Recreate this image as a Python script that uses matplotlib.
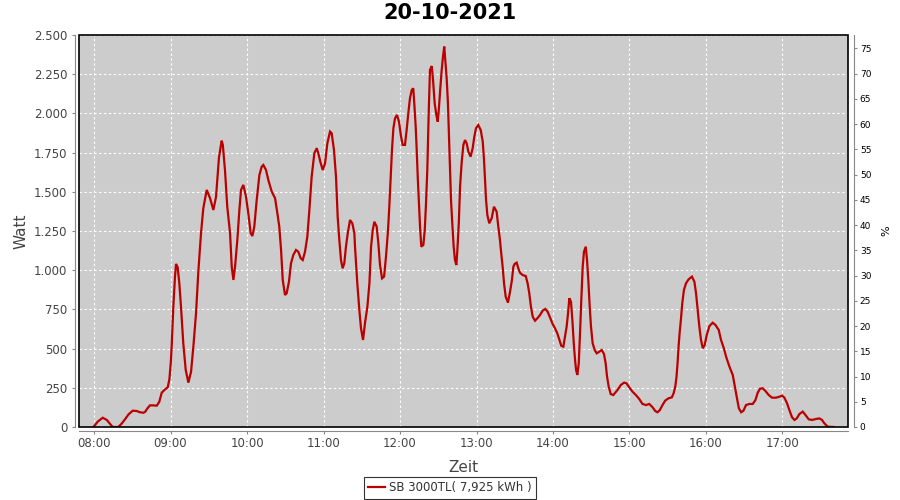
import matplotlib
matplotlib.use("Agg")
import matplotlib.pyplot as plt
from matplotlib.patches import Rectangle
from matplotlib.ticker import FixedLocator, FuncFormatter

# ---- data (minutes after 08:00, Watt) ----
minutes = [-0.5, 3, 6.8, 10, 13, 14.6, 19, 21.5, 24.3, 27, 30.3, 33.5, 36, 38.7, 40, 42, 43.9, 46.5, 49.2,
           51.2, 53.1, 55.7, 57.8, 59.1, 60.2, 61, 62.2, 63.5, 64.3, 65.6, 66.9, 68.2, 70, 71.9, 74, 76.1,
           77.9, 80, 81.8, 83.9, 85.7, 88.4, 91, 93.6, 95.7, 96.7, 98, 100.1, 101, 102.7, 104.5, 106.7, 108,
           109.3, 110.6, 112.4, 114, 115.3, 117.1, 119.2, 121, 122.9, 124.2, 125.7, 127.6, 129.7, 131.5,
           132.8, 134.9, 136.7, 139.4, 142, 143.8, 145.3, 146.7, 148, 149.8, 151.1, 152.9, 154.5, 156.3,
           158.4, 160.2, 162.1, 163.7, 165.5, 167.3, 168.9, 170.7, 172.8, 174.7, 175.9, 177.8, 179.4, 181.2,
           183, 185.1, 186.4, 188.2, 189.8, 191.1, 192.4, 193.7, 195, 196.3, 197.6, 199, 200.8, 202.6, 204.2,
           204.7, 206.5, 208.1, 209.4, 211, 212.5, 214.4, 216, 217.3, 218.6, 219.9, 221.7, 223, 224.3, 225.9,
           227.5, 229, 230.6, 231.6, 232.7, 233.7, 234.8, 236.1, 237.6, 239.2, 240.8, 242.1, 243.9, 245.2,
           246.5, 247.8, 249.2, 250.4, 251.2, 252.3, 253.1, 253.9, 254.9, 255.7, 256.7, 258.3, 259.4, 260.4,
           261.4, 262.5, 263.5, 264.9, 265.9, 267.2, 268.5, 269.6, 270.6, 271.6, 272.7, 273.7, 274.7, 275.5,
           276.6, 277.6, 278.4, 279.2, 280, 281, 282.1, 283.1, 284.2, 285, 286.1, 287.1, 288.4, 289.7, 291,
           292.3, 293.6, 295.4, 297, 298.3, 299.6, 301.4, 303.3, 304.9, 305.9, 306.7, 307.5, 308.5, 310,
           311.9, 313.7, 315.8, 317.1, 318.4, 319.4, 320.5, 321.6, 322.9, 324.7, 326.3, 327.8, 328.9, 329.9,
           331.5, 332.8, 334.1, 336.2, 338.6, 340.1, 341.4, 342.7, 344.1, 345.9, 347.7, 349.8, 351.9, 354,
           355.8, 357.6, 359.5, 361.6, 363.4, 365, 366.5, 368.1, 369.4, 370.7, 371.8, 372.8, 374.1, 375.2,
           376.3, 377.3, 378.1, 379.1, 380.2, 381.2, 382.2, 383.3, 384.3, 385.7, 386.7, 387.7, 388.8, 389.8,
           391.1, 392.7, 394.3, 396.3, 398.2, 400, 401.3, 402.4, 403.7, 405.3, 407.3, 410.6, 413.2, 415.8,
           417.6, 419.8, 422.4, 425, 427.6, 430.2, 432.9, 435.5, 438.1, 440.2, 442, 443.8, 445.9, 448, 450.6,
           453.2, 454.6, 455.9, 456.9, 457.7, 458.5, 459.3, 460.3, 461.4, 462.7, 464.3, 466.4, 469, 470.9,
           472.2, 473.5, 474.8, 476.1, 477.5, 479, 480.6, 482.7, 485.3, 487.4, 490, 491.8, 494, 495.8, 498.4,
           501, 502.4, 504.1, 505.8, 507.6, 509.4, 511.4, 514.1, 516.7, 518.8, 520.6, 522.4, 524.5, 526.6,
           529.2, 531.8, 534.9, 537.6, 539.7, 541.5, 543.6, 545.4, 547.5, 549.4, 551.2, 553.3, 555.9, 558,
           560.6, 563.2, 566.3, 568.9, 571, 572.9, 575.5, 580]
watt = [0, 35, 59, 45, 15, 0, 0, 20, 49, 80, 104, 102, 94, 91, 96, 120, 138, 138, 136,
        161, 219, 240, 253, 304, 410, 534, 767, 959, 1040, 1018, 916, 767, 534, 364, 283, 353,
        512, 725, 991, 1235, 1395, 1512, 1459, 1384, 1469, 1575, 1720, 1826, 1800, 1639, 1405, 1235, 1022,
        938, 1022, 1193, 1384, 1512, 1544, 1469, 1363, 1235, 1218, 1278, 1448, 1607, 1660,
        1671, 1639, 1575, 1501, 1459, 1363, 1278, 1129, 938, 842, 853, 927, 1044, 1097,
        1129, 1118, 1076, 1065, 1118, 1214, 1384, 1596, 1746, 1778, 1746, 1682, 1639, 1682,
        1809, 1884, 1873, 1767, 1596, 1341, 1193, 1065, 1012, 1044, 1150, 1235, 1320, 1299, 1235,
        1150, 916, 746, 629, 555, 661, 767, 916, 1150, 1256, 1309, 1278, 1172, 1033, 948,
        959, 1086, 1256, 1405, 1596, 1767, 1905, 1969, 1990, 1947, 1852, 1799, 1799, 1894,
        2001, 2096, 2149, 2160, 2064, 1915, 1767, 1596, 1427, 1278, 1150, 1161, 1256, 1427,
        1639, 2001, 2277, 2302, 2213, 2064, 1990, 1947, 2043, 2160, 2277, 2362, 2426, 2341,
        2224, 2064, 1852, 1639, 1448, 1299, 1150, 1065, 1033, 1129, 1299, 1533, 1692, 1799, 1830,
        1809, 1756, 1724, 1778, 1852, 1905, 1926, 1894, 1820, 1703, 1575, 1448, 1352, 1299,
        1331, 1405, 1373, 1278, 1193, 1108, 1022, 916, 831, 793, 863, 938, 1022, 1040,
        1048, 1012, 984, 969, 963, 916, 853, 767, 703, 678, 693, 714, 742, 753,
        735, 700, 661, 629, 597, 555, 518, 512, 576, 640, 725, 821, 799, 682,
        534, 427, 364, 332, 406, 597, 810, 1022, 1118, 1150, 1065, 938, 767, 640,
        534, 491, 470, 480, 491, 466, 406, 321, 257, 210, 204, 236, 268, 283,
        279, 253, 225, 204, 179, 147, 140, 147, 126, 102, 94, 108, 140, 168, 183,
        189, 215, 257, 321, 406, 512, 597, 682, 789, 874, 916, 942, 959, 927,
        853, 746, 640, 555, 502, 523, 587, 644, 665, 651, 619, 555, 502, 448, 385,
        332, 268, 193, 119, 94, 104, 140, 147, 147, 172, 219, 244, 247, 230,
        204, 187, 187, 193, 200, 187, 151, 108, 62, 45, 55, 83, 98, 77,
        49, 45, 51, 55, 45, 23, 2, 0]

time_ticks = ["08:00", "09:00", "10:00", "11:00", "12:00", "13:00", "14:00", "15:00", "16:00", "17:00"]
watt_ticks = [0, 250, 500, 750, 1000, 1250, 1500, 1750, 2000, 2250, 2500]
pct_ticks = list(range(0, 80, 5))
title = "20-10-2021"
series_name = "SB 3000TL( 7,925 kWh )"

# ---- figure ----
fig = plt.figure(figsize=(9, 5), dpi=100)
fig.patch.set_facecolor("white")
L, R, T, B = 79, 848, 35, 427
ax = fig.add_axes([L / 900, 1 - B / 500, (R - L) / 900, (B - T) / 500])
ax.set_facecolor("#cccccc")

ax.plot(minutes, watt, color="#bb0000", lw=1.6, zorder=3, solid_joinstyle="miter")

ax.set_xlim(-11.8, 591.4)
ax.set_ylim(0, 2500)
tick_pos = [60 * i for i in range(len(time_ticks))]
ax.xaxis.set_major_locator(FixedLocator(tick_pos))
ax.set_xticklabels(time_ticks)
ax.yaxis.set_major_locator(FixedLocator(watt_ticks))
ax.yaxis.set_major_formatter(FuncFormatter(lambda v, p: f"{int(v):,}".replace(",", ".")))

ax.grid(True, color="white", lw=0.8, linestyle=(0, (2.2, 2.2)), zorder=1)
ax.set_axisbelow(True)

axis_gray = "#888888"
for s in ["top", "right"]:
    ax.spines[s].set_visible(False)
ax.spines["left"].set_position(("outward", 3))
ax.spines["bottom"].set_position(("outward", 3))
ax.spines["left"].set_color(axis_gray)
ax.spines["bottom"].set_color(axis_gray)
ax.tick_params(axis="both", colors=axis_gray, length=2.5, width=0.8, labelcolor="#444444", labelsize=8.5)
ax.tick_params(axis="y", pad=3)
ax.tick_params(axis="x", pad=2)

ax.add_patch(Rectangle((0, 0), 1, 1, transform=ax.transAxes, fill=False, ec="black", lw=1.2,
                       zorder=5, clip_on=False))

ax.set_ylabel("Watt", fontsize=11, color="#444444")
ax.yaxis.set_label_coords(-0.066, 0.5)
ax.set_xlabel("Zeit", fontsize=11, color="#444444")
ax.xaxis.set_label_coords(0.5, -0.085)

ax2 = ax.twinx()
ax2.set_ylim(0, 77.63)
ax2.yaxis.set_major_locator(FixedLocator(pct_ticks))
for s in ["top", "left", "bottom"]:
    ax2.spines[s].set_visible(False)
ax2.spines["right"].set_position(("outward", 4))
ax2.spines["right"].set_color(axis_gray)
ax2.tick_params(axis="y", colors=axis_gray, length=2.5, width=0.8, labelcolor="black", labelsize=6.5, pad=2)
ax2.set_ylabel("%", fontsize=8, color="black")
ax2.yaxis.set_label_coords(1.044, 0.5)

fig.text(0.5, 1 - 13 / 500, title, ha="center", va="center", fontsize=15, fontweight="bold", color="black")

handles = ax.get_lines()
leg = fig.legend(handles, [series_name], loc="center", bbox_to_anchor=(0.5, 1 - 488 / 500),
                 fontsize=8.5, frameon=True, fancybox=False, handlelength=1.4, handletextpad=0.4,
                 borderpad=0.35, borderaxespad=0)
leg.get_frame().set_edgecolor("black")
leg.get_frame().set_linewidth(0.8)
for t in leg.get_texts():
    t.set_color("#333333")

fig.savefig("out.png", dpi=100)
